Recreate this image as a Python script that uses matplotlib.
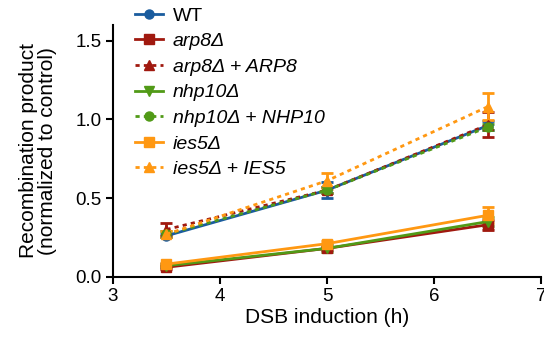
import matplotlib
matplotlib.use("Agg")
import matplotlib.pyplot as plt
from matplotlib.lines import Line2D

plt.rcParams['font.family'] = ['Liberation Sans', 'DejaVu Sans']

x = [3.5, 5.0, 6.5]

labels = ["WT", "arp8Δ", "arp8Δ + ARP8", "nhp10Δ", "nhp10Δ + NHP10", "ies5Δ", "ies5Δ + IES5"]
wt = [0.26, 0.55, 0.96]
wt_err = [0.01, 0.05, 0.03]
arp8 = [0.06, 0.18, 0.33]
arp8_err = [0.01, 0.01, 0.03]
arp8_c = [0.30, 0.55, 0.965]
arp8_c_err = [0.04, 0.02, 0.08]
nhp10 = [0.07, 0.18, 0.35]
nhp10_err = [0.01, 0.02, 0.03]
nhp10_c = [0.27, 0.55, 0.95]
nhp10_c_err = [0.02, 0.02, 0.02]
ies5 = [0.08, 0.21, 0.39]
ies5_err = [0.01, 0.02, 0.05]
ies5_c = [0.27, 0.61, 1.08]
ies5_c_err = [0.02, 0.05, 0.085]

xticks = [3, 4, 5, 6, 7]
yticks = [0.0, 0.5, 1.0, 1.5]
ytick_labels = ["0.0", "0.5", "1.0", "1.5"]

blue = "#1a5c9e"
red = "#a0190f"
green = "#519a17"
orange = "#ff9812"
dotted = (0, (1.5, 1.5))

series = [
    (wt, wt_err, blue, 'o', '-'),
    (arp8, arp8_err, red, 's', '-'),
    (arp8_c, arp8_c_err, red, '^', dotted),
    (nhp10, nhp10_err, green, 'v', '-'),
    (nhp10_c, nhp10_c_err, green, 'o', dotted),
    (ies5, ies5_err, orange, 's', '-'),
    (ies5_c, ies5_c_err, orange, '^', dotted),
]

fig = plt.figure(figsize=(5.44, 3.43), dpi=100)
ax = fig.add_axes([0.2077, 0.1933, 0.7868, 0.7338])

for (vals, errs, c, m, ls), lab in zip(series, labels):
    ax.errorbar(x, vals, yerr=errs, color=c, marker=m, markersize=6.5,
                linestyle=ls, linewidth=2, elinewidth=2, capsize=4,
                capthick=2, label=lab)

ax.set_xlim(3, 7)
ax.set_ylim(0, 1.6)
ax.set_xticks(xticks)
ax.set_yticks(yticks)
ax.set_yticklabels(ytick_labels)
ax.tick_params(labelsize=13.5, width=1.5, length=5, pad=3, color='black')
for s in ['top', 'right']:
    ax.spines[s].set_visible(False)
for s in ['left', 'bottom']:
    ax.spines[s].set_linewidth(1.5)

ax.set_xlabel("DSB induction (h)", fontsize=15, labelpad=2)
ax.set_ylabel("Recombination product\n(normalized to control)", fontsize=15, linespacing=1.05)
ax.yaxis.set_label_coords(-0.13, 0.5)

leg_handles = [Line2D([], [], color=c, marker=m, markersize=6.5, linestyle=ls, linewidth=2)
               for (_, _, c, m, ls) in series]
leg = fig.legend(leg_handles, labels, loc='upper left',
                 bbox_to_anchor=(135 / 544, 1 - 7 / 343), bbox_transform=fig.transFigure,
                 frameon=False, fontsize=14, handlelength=1.45, handletextpad=0.5,
                 labelspacing=0.41, borderaxespad=0, borderpad=0)
for i, t in enumerate(leg.get_texts()):
    if i > 0:
        t.set_fontstyle('italic')

fig.savefig("out.png", dpi=100)
